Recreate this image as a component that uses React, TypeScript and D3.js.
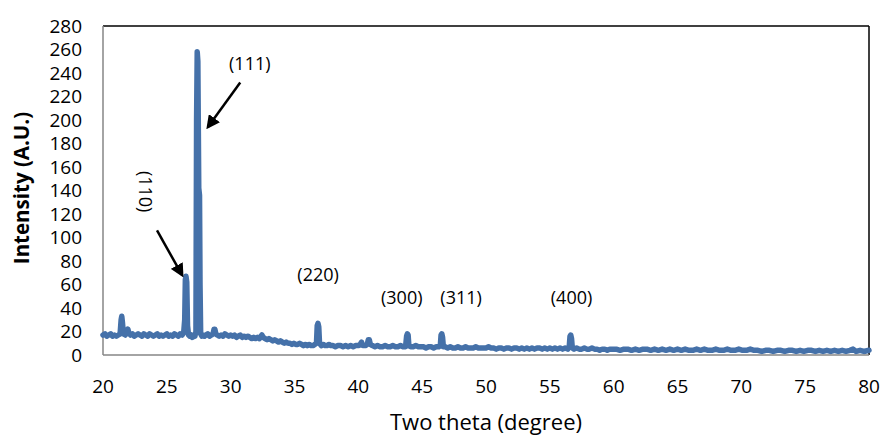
import React, { useEffect, useRef } from 'react';
import * as d3 from 'd3';

// XRD scan in pieces (two theta, intensity)
const scan20to26: [number, number][] = [
  [20.0, 17], [20.15, 18], [20.3, 16], [20.45, 17], [20.6, 18], [20.75, 16], [20.9, 17], [21.05, 16],
  [21.2, 17], [21.34, 18], [21.42, 30], [21.47, 33], [21.52, 28], [21.6, 18], [21.75, 17], [21.88, 19],
  [21.95, 22], [22.02, 19], [22.15, 17], [22.3, 18], [22.45, 16], [22.6, 17], [22.75, 18], [22.9, 17],
  [23.05, 16], [23.2, 18], [23.35, 17], [23.5, 16], [23.65, 18], [23.8, 17], [23.95, 16], [24.1, 17],
  [24.25, 18], [24.4, 16], [24.55, 17], [24.7, 16], [24.85, 17], [25.0, 18], [25.15, 16], [25.3, 17],
  [25.45, 16], [25.6, 18], [25.75, 17], [25.9, 16], [26.05, 18], [26.2, 17], [26.32, 19],
];

const scan26to30: [number, number][] = [
  [26.4, 30], [26.45, 64], [26.5, 67], [26.56, 62], [26.62, 25], [26.7, 17], [26.8, 16], [26.9, 17],
  [27.0, 15], [27.1, 17], [27.2, 16], [27.28, 20], [27.33, 200], [27.38, 258], [27.43, 250], [27.5, 142],
  [27.56, 136], [27.6, 60], [27.65, 18], [27.75, 16], [27.85, 17], [27.95, 16], [28.05, 17], [28.2, 18],
  [28.35, 16], [28.5, 17], [28.62, 18], [28.7, 22], [28.76, 22], [28.84, 18], [28.95, 17], [29.1, 16],
  [29.25, 17], [29.4, 16], [29.55, 18], [29.7, 17], [29.85, 16], [30.0, 17],
];

const scan30to45: [number, number][] = [
  [30.15, 16], [30.3, 17], [30.45, 15], [30.6, 16], [30.75, 17], [30.9, 15], [31.05, 16], [31.2, 15],
  [31.35, 16], [31.5, 15], [31.65, 14], [31.8, 15], [31.95, 14], [32.1, 15], [32.25, 14], [32.38, 16],
  [32.45, 17], [32.55, 15], [32.7, 14], [32.85, 13], [33.0, 14], [33.15, 13], [33.3, 12], [33.45, 13],
  [33.6, 12], [33.75, 11], [33.9, 12], [34.05, 11], [34.2, 10], [34.35, 11], [34.5, 10], [34.65, 10],
  [34.8, 9], [34.95, 10], [35.1, 9], [35.25, 9], [35.4, 10], [35.55, 9], [35.7, 8], [35.85, 9],
  [36.0, 8], [36.15, 9], [36.3, 8], [36.45, 8], [36.6, 9], [36.72, 10], [36.78, 25], [36.84, 27],
  [36.9, 24], [36.96, 10], [37.1, 8], [37.25, 9], [37.4, 8], [37.55, 8], [37.7, 9], [37.85, 8],
  [38.0, 8], [38.2, 7], [38.4, 8], [38.6, 8], [38.8, 7], [39.0, 8], [39.2, 7], [39.4, 8],
  [39.6, 7], [39.8, 8], [40.0, 8], [40.15, 9], [40.25, 11], [40.35, 8], [40.55, 8], [40.7, 9],
  [40.78, 13], [40.86, 13], [40.94, 9], [41.1, 8], [41.3, 7], [41.5, 8], [41.7, 7], [41.9, 7],
  [42.1, 8], [42.3, 7], [42.5, 7], [42.7, 8], [42.9, 7], [43.1, 7], [43.3, 8], [43.5, 7],
  [43.7, 7], [43.78, 16], [43.84, 18], [43.9, 17], [43.96, 8], [44.1, 7], [44.3, 7], [44.5, 8],
  [44.7, 7], [44.9, 7],
];

const scan45to60: [number, number][] = [
  [45.1, 7], [45.3, 6], [45.5, 7], [45.7, 7], [45.9, 6], [46.1, 7], [46.3, 7], [46.42, 8],
  [46.48, 17], [46.54, 18], [46.6, 15], [46.66, 7], [46.8, 7], [47.0, 6], [47.2, 7], [47.4, 6],
  [47.6, 6], [47.8, 7], [48.0, 6], [48.2, 6], [48.4, 7], [48.6, 6], [48.8, 6], [49.0, 6],
  [49.2, 7], [49.4, 6], [49.6, 6], [49.8, 6], [50.0, 6], [50.2, 7], [50.4, 6], [50.6, 6],
  [50.8, 5], [51.0, 6], [51.2, 6], [51.4, 5], [51.6, 6], [51.8, 6], [52.0, 5], [52.2, 6],
  [52.4, 6], [52.6, 5], [52.8, 6], [53.0, 5], [53.2, 6], [53.4, 5], [53.6, 6], [53.8, 5],
  [54.0, 6], [54.2, 6], [54.4, 5], [54.6, 6], [54.8, 5], [55.0, 6], [55.2, 5], [55.4, 6],
  [55.6, 5], [55.8, 6], [56.0, 5], [56.2, 6], [56.4, 5], [56.52, 7], [56.58, 16], [56.64, 17],
  [56.7, 14], [56.76, 6], [56.9, 5], [57.1, 6], [57.3, 5], [57.5, 5], [57.7, 6], [57.9, 5],
  [58.1, 5], [58.3, 6], [58.5, 5], [58.7, 5], [58.9, 4], [59.1, 5], [59.3, 5], [59.5, 4],
  [59.7, 5], [59.9, 5],
];

const scan60to80: [number, number][] = [
  [60.2, 5], [60.5, 4], [60.8, 5], [61.1, 5], [61.4, 4], [61.7, 5], [62.0, 4], [62.3, 5],
  [62.6, 5], [62.9, 4], [63.2, 5], [63.5, 4], [63.8, 5], [64.1, 4], [64.4, 5], [64.7, 4],
  [65.0, 5], [65.3, 4], [65.6, 5], [65.9, 4], [66.2, 4], [66.5, 5], [66.8, 4], [67.1, 5],
  [67.4, 4], [67.7, 4], [68.0, 5], [68.3, 4], [68.6, 4], [68.9, 5], [69.2, 4], [69.5, 4],
  [69.8, 5], [70.1, 4], [70.4, 4], [70.7, 5], [71.0, 4], [71.3, 4], [71.6, 3], [71.9, 4],
  [72.2, 4], [72.5, 3], [72.8, 4], [73.1, 4], [73.4, 3], [73.7, 4], [74.0, 4], [74.3, 3],
  [74.6, 4], [74.9, 3], [75.2, 4], [75.5, 4], [75.8, 3], [76.1, 4], [76.4, 3], [76.7, 4],
  [77.0, 3], [77.3, 4], [77.6, 3], [77.9, 4], [78.2, 3], [78.5, 4], [78.75, 5], [79.0, 3],
  [79.3, 4], [79.6, 3], [80.0, 4],
];

const xTicks = [20, 25, 30, 35, 40, 45, 50, 55, 60, 65, 70, 75, 80];
const yTicks = [0, 20, 40, 60, 80, 100, 120, 140, 160, 180, 200, 220, 240, 260, 280];

// peak labels: [two theta, intensity] centre of the text
const peakLabels = ['(111)', '(220)', '(300)', '(311)', '(400)'];
const peakLabelPos: [number, number][] = [[31.5, 248], [36.85, 68], [43.4, 49], [48.05, 49], [56.7, 49]];

const W = 883;
const H = 438;
const FONT = '"Open Sans", "Liberation Sans", sans-serif';

const App: React.FC = () => {
  const svgRef = useRef<SVGSVGElement>(null);

  useEffect(() => {
    if (!svgRef.current) return;
    const svg = d3.select(svgRef.current);
    svg.selectAll('*').remove();

    const margin = { top: 26, right: 14, bottom: 83, left: 103 };
    const innerW = W - margin.left - margin.right;
    const innerH = H - margin.top - margin.bottom;

    const x = d3.scaleLinear().domain([20, 80]).range([0, innerW]);
    const y = d3.scaleLinear().domain([0, 280]).range([innerH, 0]);

    const defs = svg.append('defs');
    defs.append('marker')
      .attr('id', 'arrowhead')
      .attr('viewBox', '0 0 10 10')
      .attr('refX', 8)
      .attr('refY', 5)
      .attr('markerWidth', 5.5)
      .attr('markerHeight', 5.5)
      .attr('orient', 'auto')
      .append('path')
      .attr('d', 'M0,0 L10,5 L0,10 z')
      .attr('fill', '#000');

    const g = svg.append('g').attr('transform', `translate(${margin.left},${margin.top})`);

    // frame: black top/right, grey axis lines
    g.append('line').attr('x1', 0).attr('x2', innerW).attr('y1', 0).attr('y2', 0)
      .attr('stroke', '#000').attr('stroke-width', 1.5);
    g.append('line').attr('x1', innerW).attr('x2', innerW).attr('y1', 0).attr('y2', innerH)
      .attr('stroke', '#000').attr('stroke-width', 1.5);
    g.append('line').attr('x1', 0).attr('x2', 0).attr('y1', 0).attr('y2', innerH)
      .attr('stroke', '#868686').attr('stroke-width', 1.5);

    const data = [...scan20to26, ...scan26to30, ...scan30to45, ...scan45to60, ...scan60to80];
    const line = d3.line<[number, number]>()
      .x(d => x(d[0]))
      .y(d => y(d[1]));

    g.append('path')
      .datum(data)
      .attr('fill', 'none')
      .attr('stroke', '#4571a9')
      .attr('stroke-width', 5.5)
      .attr('stroke-linejoin', 'round')
      .attr('stroke-linecap', 'round')
      .attr('d', line);

    g.append('line').attr('x1', 0).attr('x2', innerW).attr('y1', innerH).attr('y2', innerH)
      .attr('stroke', '#868686').attr('stroke-width', 1.5);

    // tick labels
    g.selectAll('.ytick')
      .data(yTicks)
      .enter().append('text')
      .attr('x', -21)
      .attr('y', d => y(d))
      .attr('dy', '0.35em')
      .attr('text-anchor', 'end')
      .attr('font-family', FONT)
      .attr('font-size', 19)
      .attr('fill', '#000')
      .text(d => d);

    g.selectAll('.xtick')
      .data(xTicks)
      .enter().append('text')
      .attr('x', d => x(d))
      .attr('y', innerH + 31)
      .attr('dy', '0.35em')
      .attr('text-anchor', 'middle')
      .attr('font-family', FONT)
      .attr('font-size', 19)
      .attr('fill', '#000')
      .text(d => d);

    // axis titles
    g.append('text')
      .attr('x', innerW / 2)
      .attr('y', innerH + 67)
      .attr('dy', '0.35em')
      .attr('text-anchor', 'middle')
      .attr('font-family', FONT)
      .attr('font-size', 22)
      .attr('fill', '#000')
      .text('Two theta (degree)');

    svg.append('text')
      .attr('transform', 'translate(22,188) rotate(-90)')
      .attr('dy', '0.35em')
      .attr('text-anchor', 'middle')
      .attr('font-family', FONT)
      .attr('font-weight', 'bold')
      .attr('font-size', 20.5)
      .attr('fill', '#000')
      .text('Intensity (A.U.)');

    // peak labels
    g.selectAll('.peak')
      .data(peakLabels)
      .enter().append('text')
      .attr('x', (d, i) => x(peakLabelPos[i][0]))
      .attr('y', (d, i) => y(peakLabelPos[i][1]))
      .attr('dy', '0.35em')
      .attr('text-anchor', 'middle')
      .attr('font-family', FONT)
      .attr('font-size', 18)
      .attr('fill', '#000')
      .text(d => d);

    g.append('text')
      .attr('transform', `translate(${x(23.3)},${y(139)}) rotate(90)`)
      .attr('dy', '0.35em')
      .attr('text-anchor', 'middle')
      .attr('font-family', FONT)
      .attr('font-size', 18)
      .attr('fill', '#000')
      .text('(110)');

    // arrows: tail -> head, in data units
    const arrows: [number, number, number, number][] = [
      [30.75, 232, 28.22, 194],
      [24.23, 106, 26.2, 68],
    ];
    g.selectAll('.arrow')
      .data(arrows)
      .enter().append('line')
      .attr('x1', d => x(d[0]))
      .attr('y1', d => y(d[1]))
      .attr('x2', d => x(d[2]))
      .attr('y2', d => y(d[3]))
      .attr('stroke', '#000')
      .attr('stroke-width', 2.5)
      .attr('marker-end', 'url(#arrowhead)');
  }, []);

  return (
    <svg
      ref={svgRef}
      width={W}
      height={H}
      style={{ position: 'fixed', left: 0, top: 0, background: '#fff' }}
    />
  );
};

export default App;
